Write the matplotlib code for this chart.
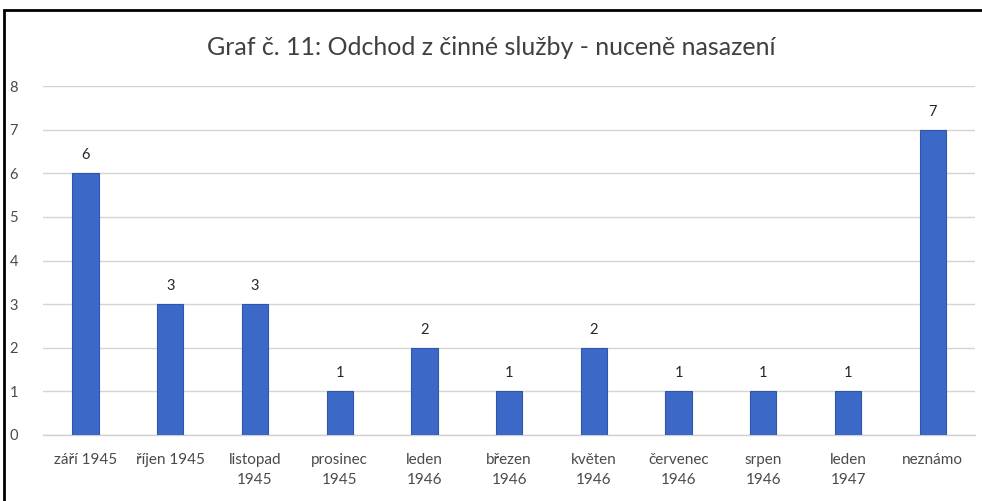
import matplotlib.pyplot as plt
from matplotlib.patches import Rectangle

categories = ["září 1945", "říjen 1945", "listopad\n1945", "prosinec\n1945", "leden\n1946",
              "březen\n1946", "květen\n1946", "červenec\n1946", "srpen\n1946", "leden\n1947",
              "neznámo"]
values = [6, 3, 3, 1, 2, 1, 2, 1, 1, 1, 7]

plt.rcParams["font.family"] = ["Lato", "DejaVu Sans"]

fig = plt.figure(figsize=(9.82, 5.01), dpi=100)
ax = fig.add_axes([0.044, 0.132, 0.949, 0.696])

x = range(len(categories))
bars = ax.bar(x, values, width=0.31, color="#3C68C8", edgecolor="#2F56A8", linewidth=0.8, zorder=3)
for xi, v in zip(x, values):
    ax.text(xi, v + 0.25, str(v), ha="center", va="bottom", fontsize=10.5, color="#262626")

ax.set_ylim(0, 8)
ax.set_xlim(-0.5, len(categories) - 0.5)
ax.set_yticks(range(0, 9))
ax.set_xticks(list(x))
ax.set_xticklabels(categories, fontsize=11, color="#4a4a4a", linespacing=1.55)
ax.tick_params(axis="y", labelsize=10.5, colors="#4a4a4a", length=0, pad=18)
ax.tick_params(axis="x", length=0, pad=13)
ax.grid(axis="y", color="#d4d4d4", linewidth=1.0, zorder=0)
for side in ("top", "right", "left"):
    ax.spines[side].set_visible(False)
ax.spines["bottom"].set_color("#d0d0d0")
ax.spines["bottom"].set_linewidth(1.0)

fig.text(0.5, 0.905, "Graf č. 11: Odchod z činné služby - nuceně nasazení",
         ha="center", va="center", fontsize=18, color="#404040")

fig.patches.append(Rectangle((0.004, -0.01), 1.2, 0.99, transform=fig.transFigure,
                             fill=False, edgecolor="black", linewidth=2.0))

fig.savefig("out.png", dpi=100)
